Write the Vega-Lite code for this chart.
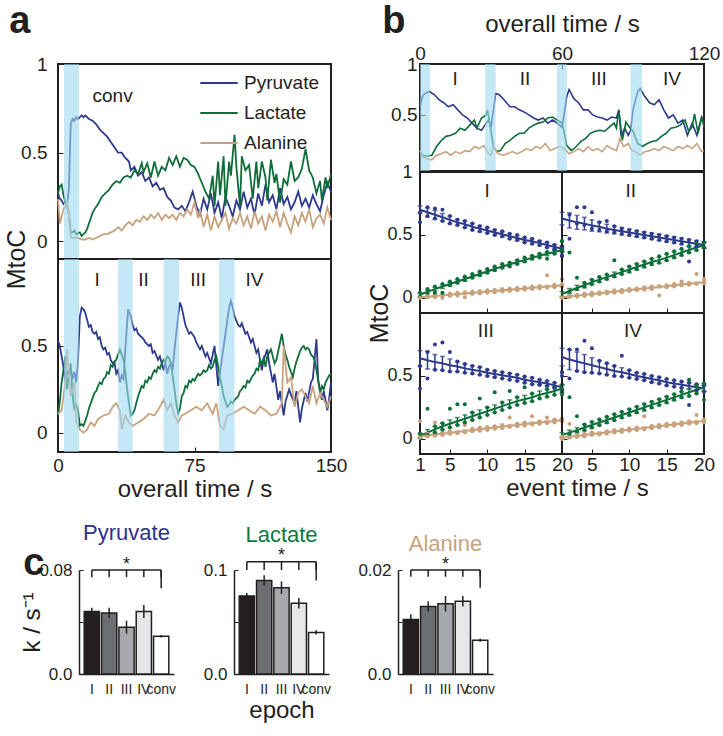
{
"$schema":"https://vega.github.io/schema/vega-lite/v6.json",
"autosize":{"type":"pad"},
"padding":{"left":3,"top":1,"right":4,"bottom":4},
"background":"white",
"config":{
 "font":"Liberation Sans",
 "view":{"stroke":"#231f20","strokeWidth":2},
 "axis":{"grid":false,"domain":false,"labelFontSize":19,"titleFontSize":24,"titleFontWeight":"normal","labelColor":"#231f20","titleColor":"#231f20","tickColor":"#231f20","tickSize":-5,"tickWidth":1,"labelPadding":12,"labelFlush":false,"labelOverlap":false}
},
"datasets":{
 "aP":[{"t":0,"v":0.27},{"t":1,"v":0.24},{"t":2,"v":0.23},{"t":3,"v":0.21},{"t":4,"v":0.22},{"t":5,"v":0.2},{"t":6,"v":0.3},{"t":7,"v":0.66},{"t":8,"v":0.69},{"t":9,"v":0.68},{"t":10,"v":0.7},{"t":11,"v":0.69},{"t":13,"v":0.71},{"t":14,"v":0.7},{"t":15,"v":0.71},{"t":17,"v":0.69},{"t":19,"v":0.68},{"t":21,"v":0.66},{"t":23,"v":0.63},{"t":25,"v":0.61},{"t":27,"v":0.59},{"t":29,"v":0.56},{"t":31,"v":0.53},{"t":33,"v":0.5},{"t":35,"v":0.5},{"t":37,"v":0.47},{"t":39,"v":0.45},{"t":40,"v":0.4},{"t":42,"v":0.42},{"t":44,"v":0.37},{"t":46,"v":0.39},{"t":48,"v":0.34},{"t":50,"v":0.36},{"t":52,"v":0.31},{"t":54,"v":0.33},{"t":56,"v":0.29},{"t":58,"v":0.3},{"t":60,"v":0.25},{"t":62,"v":0.23},{"t":64,"v":0.19},{"t":66,"v":0.18},{"t":68,"v":0.2},{"t":70,"v":0.17},{"t":72,"v":0.22},{"t":74,"v":0.28},{"t":76,"v":0.2},{"t":78,"v":0.15},{"t":80,"v":0.24},{"t":82,"v":0.18},{"t":84,"v":0.27},{"t":86,"v":0.16},{"t":88,"v":0.22},{"t":90,"v":0.13},{"t":92,"v":0.25},{"t":94,"v":0.2},{"t":96,"v":0.14},{"t":98,"v":0.23},{"t":100,"v":0.18},{"t":102,"v":0.28},{"t":104,"v":0.19},{"t":106,"v":0.24},{"t":108,"v":0.15},{"t":110,"v":0.27},{"t":112,"v":0.2},{"t":114,"v":0.32},{"t":116,"v":0.22},{"t":118,"v":0.26},{"t":120,"v":0.18},{"t":122,"v":0.3},{"t":124,"v":0.21},{"t":126,"v":0.25},{"t":128,"v":0.18},{"t":130,"v":0.22},{"t":132,"v":0.28},{"t":134,"v":0.2},{"t":136,"v":0.24},{"t":138,"v":0.19},{"t":140,"v":0.26},{"t":142,"v":0.21},{"t":144,"v":0.17},{"t":146,"v":0.26},{"t":148,"v":0.33},{"t":150,"v":0.28}],
 "aL":[{"t":0,"v":0.27},{"t":1,"v":0.31},{"t":2,"v":0.32},{"t":3,"v":0.26},{"t":4,"v":0.22},{"t":5,"v":0.2},{"t":6,"v":0.15},{"t":7,"v":0.05},{"t":8,"v":0.05},{"t":9,"v":0.06},{"t":10,"v":0.04},{"t":12,"v":0.05},{"t":13,"v":0.03},{"t":14,"v":0.04},{"t":15,"v":0.05},{"t":16,"v":0.07},{"t":17,"v":0.1},{"t":18,"v":0.13},{"t":19,"v":0.16},{"t":20,"v":0.18},{"t":22,"v":0.21},{"t":24,"v":0.25},{"t":26,"v":0.27},{"t":28,"v":0.29},{"t":30,"v":0.32},{"t":32,"v":0.34},{"t":34,"v":0.33},{"t":36,"v":0.36},{"t":38,"v":0.37},{"t":40,"v":0.36},{"t":42,"v":0.4},{"t":44,"v":0.38},{"t":46,"v":0.44},{"t":47,"v":0.39},{"t":49,"v":0.44},{"t":51,"v":0.36},{"t":53,"v":0.45},{"t":55,"v":0.37},{"t":57,"v":0.42},{"t":59,"v":0.4},{"t":61,"v":0.47},{"t":63,"v":0.43},{"t":65,"v":0.48},{"t":67,"v":0.42},{"t":69,"v":0.47},{"t":71,"v":0.46},{"t":73,"v":0.43},{"t":75,"v":0.42},{"t":77,"v":0.38},{"t":79,"v":0.33},{"t":81,"v":0.28},{"t":83,"v":0.24},{"t":85,"v":0.37},{"t":86,"v":0.2},{"t":88,"v":0.45},{"t":89,"v":0.26},{"t":91,"v":0.48},{"t":92,"v":0.2},{"t":94,"v":0.45},{"t":95,"v":0.37},{"t":97,"v":0.6},{"t":98,"v":0.42},{"t":100,"v":0.2},{"t":101,"v":0.48},{"t":103,"v":0.4},{"t":105,"v":0.43},{"t":107,"v":0.24},{"t":109,"v":0.45},{"t":110,"v":0.3},{"t":112,"v":0.45},{"t":114,"v":0.36},{"t":115,"v":0.23},{"t":117,"v":0.46},{"t":119,"v":0.33},{"t":120,"v":0.38},{"t":122,"v":0.22},{"t":124,"v":0.35},{"t":126,"v":0.32},{"t":128,"v":0.45},{"t":130,"v":0.34},{"t":132,"v":0.36},{"t":134,"v":0.41},{"t":136,"v":0.52},{"t":138,"v":0.4},{"t":140,"v":0.36},{"t":142,"v":0.27},{"t":144,"v":0.34},{"t":145,"v":0.23},{"t":147,"v":0.36},{"t":148,"v":0.3},{"t":150,"v":0.38}],
 "aA":[{"t":0,"v":0.24},{"t":1,"v":0.1},{"t":2,"v":0.14},{"t":3,"v":0.18},{"t":4,"v":0.2},{"t":5,"v":0.22},{"t":6,"v":0.15},{"t":7,"v":0.02},{"t":9,"v":0.02},{"t":11,"v":0.02},{"t":13,"v":0.01},{"t":15,"v":0.01},{"t":17,"v":0.02},{"t":19,"v":0.01},{"t":21,"v":0.02},{"t":23,"v":0.03},{"t":25,"v":0.04},{"t":27,"v":0.04},{"t":29,"v":0.05},{"t":31,"v":0.06},{"t":33,"v":0.08},{"t":35,"v":0.06},{"t":37,"v":0.09},{"t":39,"v":0.11},{"t":41,"v":0.09},{"t":43,"v":0.12},{"t":45,"v":0.11},{"t":47,"v":0.14},{"t":49,"v":0.12},{"t":51,"v":0.15},{"t":53,"v":0.13},{"t":55,"v":0.16},{"t":57,"v":0.12},{"t":59,"v":0.15},{"t":61,"v":0.13},{"t":63,"v":0.15},{"t":65,"v":0.12},{"t":67,"v":0.16},{"t":69,"v":0.14},{"t":71,"v":0.18},{"t":73,"v":0.15},{"t":75,"v":0.22},{"t":77,"v":0.13},{"t":78,"v":0.18},{"t":80,"v":0.08},{"t":82,"v":0.15},{"t":84,"v":0.06},{"t":86,"v":0.14},{"t":88,"v":0.08},{"t":90,"v":0.12},{"t":92,"v":0.16},{"t":94,"v":0.07},{"t":96,"v":0.13},{"t":98,"v":0.1},{"t":100,"v":0.16},{"t":102,"v":0.09},{"t":104,"v":0.14},{"t":106,"v":0.07},{"t":108,"v":0.17},{"t":110,"v":0.1},{"t":112,"v":0.14},{"t":114,"v":0.06},{"t":116,"v":0.15},{"t":118,"v":0.11},{"t":120,"v":0.17},{"t":122,"v":0.08},{"t":124,"v":0.16},{"t":126,"v":0.1},{"t":128,"v":0.05},{"t":130,"v":0.14},{"t":132,"v":0.09},{"t":134,"v":0.16},{"t":136,"v":0.11},{"t":138,"v":0.18},{"t":140,"v":0.08},{"t":142,"v":0.13},{"t":144,"v":0.15},{"t":146,"v":0.1},{"t":148,"v":0.19},{"t":150,"v":0.12}],
 "a2P":[{"t":0,"v":0.53},{"t":1,"v":0.5},{"t":2,"v":0.44},{"t":3,"v":0.38},{"t":4,"v":0.29},{"t":5,"v":0.36},{"t":6,"v":0.33},{"t":7,"v":0.37},{"t":8,"v":0.31},{"t":9,"v":0.35},{"t":10,"v":0.29},{"t":11,"v":0.42},{"t":12,"v":0.67},{"t":13,"v":0.72},{"t":14,"v":0.71},{"t":15,"v":0.69},{"t":16,"v":0.65},{"t":17,"v":0.61},{"t":18,"v":0.62},{"t":19,"v":0.58},{"t":20,"v":0.57},{"t":21,"v":0.58},{"t":22,"v":0.54},{"t":23,"v":0.55},{"t":24,"v":0.5},{"t":25,"v":0.48},{"t":26,"v":0.49},{"t":27,"v":0.45},{"t":28,"v":0.46},{"t":29,"v":0.42},{"t":30,"v":0.4},{"t":31,"v":0.41},{"t":32,"v":0.34},{"t":33,"v":0.36},{"t":34,"v":0.29},{"t":35,"v":0.33},{"t":36,"v":0.31},{"t":37,"v":0.48},{"t":38.5,"v":0.71},{"t":40,"v":0.67},{"t":41,"v":0.62},{"t":42,"v":0.59},{"t":43,"v":0.6},{"t":44,"v":0.57},{"t":45,"v":0.56},{"t":47,"v":0.54},{"t":48,"v":0.52},{"t":50,"v":0.5},{"t":51,"v":0.51},{"t":52,"v":0.46},{"t":53,"v":0.47},{"t":55,"v":0.42},{"t":56,"v":0.44},{"t":58,"v":0.36},{"t":59,"v":0.41},{"t":60,"v":0.34},{"t":61,"v":0.38},{"t":62,"v":0.4},{"t":63,"v":0.36},{"t":64,"v":0.48},{"t":66,"v":0.67},{"t":67,"v":0.75},{"t":68,"v":0.72},{"t":69,"v":0.67},{"t":70,"v":0.62},{"t":72,"v":0.57},{"t":73,"v":0.58},{"t":75,"v":0.55},{"t":76,"v":0.52},{"t":78,"v":0.48},{"t":79,"v":0.5},{"t":81,"v":0.44},{"t":82,"v":0.46},{"t":84,"v":0.4},{"t":85,"v":0.45},{"t":86,"v":0.5},{"t":88,"v":0.27},{"t":89,"v":0.35},{"t":90,"v":0.42},{"t":92,"v":0.57},{"t":94,"v":0.72},{"t":95,"v":0.76},{"t":96,"v":0.72},{"t":97,"v":0.67},{"t":99,"v":0.62},{"t":100,"v":0.61},{"t":101,"v":0.63},{"t":103,"v":0.57},{"t":104,"v":0.58},{"t":106,"v":0.52},{"t":107,"v":0.54},{"t":109,"v":0.46},{"t":110,"v":0.48},{"t":112,"v":0.36},{"t":113,"v":0.42},{"t":115,"v":0.48},{"t":116,"v":0.4},{"t":118,"v":0.29},{"t":119,"v":0.34},{"t":121,"v":0.19},{"t":122,"v":0.24},{"t":124,"v":0.1},{"t":125,"v":0.18},{"t":127,"v":0.25},{"t":128,"v":0.22},{"t":130,"v":0.17},{"t":131,"v":0.24},{"t":133,"v":0.06},{"t":134,"v":0.14},{"t":136,"v":0.23},{"t":137,"v":0.18},{"t":139,"v":0.29},{"t":140,"v":0.31},{"t":142,"v":0.54},{"t":143,"v":0.3},{"t":145,"v":0.19},{"t":146,"v":0.24},{"t":148,"v":0.13},{"t":149,"v":0.2},{"t":150,"v":0.29}],
 "a2L":[{"t":0,"v":0.1},{"t":1,"v":0.18},{"t":2,"v":0.29},{"t":3,"v":0.36},{"t":4,"v":0.44},{"t":5,"v":0.25},{"t":6,"v":0.33},{"t":7,"v":0.4},{"t":8,"v":0.22},{"t":9,"v":0.13},{"t":10,"v":0.16},{"t":11,"v":0.13},{"t":12,"v":0.04},{"t":13,"v":0.05},{"t":14,"v":0.04},{"t":15,"v":0.07},{"t":16,"v":0.1},{"t":17,"v":0.14},{"t":18,"v":0.17},{"t":19,"v":0.2},{"t":20,"v":0.23},{"t":21,"v":0.24},{"t":22,"v":0.27},{"t":23,"v":0.29},{"t":24,"v":0.28},{"t":25,"v":0.31},{"t":26,"v":0.32},{"t":27,"v":0.35},{"t":28,"v":0.34},{"t":29,"v":0.39},{"t":30,"v":0.38},{"t":31,"v":0.41},{"t":32,"v":0.42},{"t":33,"v":0.45},{"t":34,"v":0.48},{"t":35,"v":0.45},{"t":36,"v":0.42},{"t":37,"v":0.35},{"t":38,"v":0.25},{"t":39,"v":0.17},{"t":40,"v":0.1},{"t":41,"v":0.11},{"t":42,"v":0.13},{"t":43,"v":0.17},{"t":44,"v":0.21},{"t":45,"v":0.24},{"t":46,"v":0.27},{"t":47,"v":0.26},{"t":48,"v":0.3},{"t":49,"v":0.29},{"t":50,"v":0.32},{"t":51,"v":0.31},{"t":52,"v":0.34},{"t":53,"v":0.36},{"t":54,"v":0.35},{"t":55,"v":0.38},{"t":56,"v":0.37},{"t":57,"v":0.4},{"t":58,"v":0.42},{"t":59,"v":0.41},{"t":60,"v":0.44},{"t":61,"v":0.43},{"t":62,"v":0.4},{"t":63,"v":0.33},{"t":64,"v":0.25},{"t":65,"v":0.17},{"t":66,"v":0.11},{"t":67,"v":0.14},{"t":68,"v":0.21},{"t":69,"v":0.23},{"t":70,"v":0.27},{"t":71,"v":0.26},{"t":72,"v":0.3},{"t":73,"v":0.29},{"t":74,"v":0.31},{"t":75,"v":0.3},{"t":76,"v":0.32},{"t":77,"v":0.34},{"t":78,"v":0.33},{"t":79,"v":0.34},{"t":80,"v":0.36},{"t":81,"v":0.35},{"t":82,"v":0.36},{"t":83,"v":0.39},{"t":84,"v":0.37},{"t":85,"v":0.38},{"t":86,"v":0.42},{"t":87,"v":0.44},{"t":88,"v":0.38},{"t":89,"v":0.32},{"t":90,"v":0.27},{"t":91,"v":0.21},{"t":92,"v":0.18},{"t":93,"v":0.15},{"t":94,"v":0.16},{"t":95,"v":0.18},{"t":96,"v":0.17},{"t":97,"v":0.19},{"t":98,"v":0.2},{"t":99,"v":0.21},{"t":100,"v":0.24},{"t":101,"v":0.25},{"t":102,"v":0.27},{"t":103,"v":0.26},{"t":104,"v":0.3},{"t":105,"v":0.29},{"t":106,"v":0.31},{"t":107,"v":0.33},{"t":108,"v":0.34},{"t":109,"v":0.37},{"t":110,"v":0.36},{"t":111,"v":0.42},{"t":112,"v":0.4},{"t":113,"v":0.43},{"t":114,"v":0.38},{"t":115,"v":0.44},{"t":116,"v":0.46},{"t":117,"v":0.48},{"t":118,"v":0.44},{"t":119,"v":0.4},{"t":120,"v":0.42},{"t":121,"v":0.47},{"t":122,"v":0.52},{"t":123,"v":0.57},{"t":124,"v":0.5},{"t":125,"v":0.45},{"t":126,"v":0.42},{"t":127,"v":0.38},{"t":128,"v":0.35},{"t":129,"v":0.32},{"t":130,"v":0.37},{"t":131,"v":0.41},{"t":132,"v":0.44},{"t":133,"v":0.47},{"t":134,"v":0.49},{"t":135,"v":0.5},{"t":136,"v":0.48},{"t":137,"v":0.49},{"t":138,"v":0.48},{"t":139,"v":0.45},{"t":140,"v":0.44},{"t":141,"v":0.42},{"t":142,"v":0.36},{"t":143,"v":0.3},{"t":144,"v":0.23},{"t":145,"v":0.27},{"t":146,"v":0.25},{"t":147,"v":0.29},{"t":148,"v":0.31},{"t":149,"v":0.33},{"t":150,"v":0.34}],
 "a2A":[{"t":0,"v":0.11},{"t":2,"v":0.13},{"t":4,"v":0.29},{"t":5,"v":0.48},{"t":7,"v":0.21},{"t":9,"v":0.29},{"t":10,"v":0.06},{"t":12,"v":0.02},{"t":14,"v":0},{"t":16,"v":0.02},{"t":18,"v":0.06},{"t":20,"v":0.04},{"t":22,"v":0.08},{"t":25,"v":0.1},{"t":28,"v":0.11},{"t":30,"v":0.15},{"t":32,"v":0.17},{"t":34,"v":0.13},{"t":35,"v":0.02},{"t":37,"v":0.1},{"t":39,"v":0.06},{"t":41,"v":0.04},{"t":44,"v":0.06},{"t":47,"v":0.08},{"t":50,"v":0.11},{"t":53,"v":0.1},{"t":56,"v":0.15},{"t":58,"v":0.19},{"t":60,"v":0.13},{"t":62,"v":0.17},{"t":64,"v":0.1},{"t":66,"v":0.06},{"t":68,"v":0.1},{"t":70,"v":0.11},{"t":73,"v":0.13},{"t":76,"v":0.15},{"t":79,"v":0.13},{"t":82,"v":0.17},{"t":85,"v":0.11},{"t":87,"v":0.17},{"t":89,"v":0.04},{"t":91,"v":0.02},{"t":93,"v":0.1},{"t":96,"v":0.11},{"t":99,"v":0.13},{"t":102,"v":0.15},{"t":105,"v":0.13},{"t":108,"v":0.11},{"t":111,"v":0.15},{"t":114,"v":0.13},{"t":117,"v":0.1},{"t":120,"v":0.11},{"t":123,"v":0.17},{"t":124,"v":0.5},{"t":126,"v":0.29},{"t":128,"v":0.32},{"t":130,"v":0.15},{"t":132,"v":0.23},{"t":134,"v":0.25},{"t":136,"v":0.21},{"t":138,"v":0.17},{"t":140,"v":0.27},{"t":142,"v":0.17},{"t":144,"v":0.23},{"t":146,"v":0.19},{"t":148,"v":0.15},{"t":150,"v":0.21}],
 "bP":[{"t":0,"v":0.58},{"t":1,"v":0.68},{"t":2,"v":0.71},{"t":4,"v":0.73},{"t":6,"v":0.7},{"t":8,"v":0.65},{"t":10,"v":0.62},{"t":12,"v":0.58},{"t":14,"v":0.6},{"t":16,"v":0.55},{"t":18,"v":0.5},{"t":20,"v":0.47},{"t":22,"v":0.42},{"t":24,"v":0.37},{"t":26,"v":0.35},{"t":28,"v":0.42},{"t":29,"v":0.45},{"t":30,"v":0.38},{"t":32,"v":0.71},{"t":33.4,"v":0.7},{"t":35.5,"v":0.65},{"t":38,"v":0.58},{"t":40,"v":0.58},{"t":42,"v":0.55},{"t":44,"v":0.53},{"t":46,"v":0.5},{"t":48,"v":0.47},{"t":50,"v":0.45},{"t":52,"v":0.47},{"t":54,"v":0.42},{"t":56,"v":0.45},{"t":58,"v":0.42},{"t":60,"v":0.38},{"t":61,"v":0.52},{"t":62,"v":0.68},{"t":63,"v":0.75},{"t":65,"v":0.66},{"t":67,"v":0.62},{"t":69,"v":0.55},{"t":71,"v":0.55},{"t":73,"v":0.5},{"t":75,"v":0.48},{"t":77,"v":0.47},{"t":79,"v":0.45},{"t":81,"v":0.48},{"t":83,"v":0.47},{"t":84,"v":0.55},{"t":85,"v":0.29},{"t":86.5,"v":0.37},{"t":88,"v":0.3},{"t":89,"v":0.35},{"t":90,"v":0.55},{"t":92,"v":0.73},{"t":93,"v":0.76},{"t":95,"v":0.68},{"t":97,"v":0.62},{"t":99,"v":0.6},{"t":101,"v":0.65},{"t":103,"v":0.55},{"t":105,"v":0.47},{"t":107,"v":0.5},{"t":109,"v":0.42},{"t":111,"v":0.45},{"t":113,"v":0.3},{"t":115,"v":0.42},{"t":117,"v":0.3},{"t":119,"v":0.48},{"t":120,"v":0.42}],
 "bL":[{"t":0,"v":0.15},{"t":1,"v":0.105},{"t":3,"v":0.095},{"t":5,"v":0.105},{"t":7,"v":0.19},{"t":9,"v":0.25},{"t":11,"v":0.29},{"t":13,"v":0.3},{"t":15,"v":0.32},{"t":17,"v":0.37},{"t":19,"v":0.35},{"t":21,"v":0.4},{"t":23,"v":0.45},{"t":24,"v":0.37},{"t":26,"v":0.47},{"t":28,"v":0.5},{"t":28.5,"v":0.55},{"t":29.5,"v":0.42},{"t":31,"v":0.19},{"t":32.5,"v":0.14},{"t":34,"v":0.15},{"t":36,"v":0.22},{"t":38,"v":0.25},{"t":40,"v":0.29},{"t":42,"v":0.32},{"t":44,"v":0.32},{"t":46,"v":0.37},{"t":48,"v":0.4},{"t":50,"v":0.42},{"t":52,"v":0.43},{"t":54,"v":0.47},{"t":56,"v":0.48},{"t":58,"v":0.45},{"t":60,"v":0.42},{"t":61,"v":0.32},{"t":62,"v":0.2},{"t":64,"v":0.15},{"t":66,"v":0.19},{"t":68,"v":0.24},{"t":70,"v":0.27},{"t":72,"v":0.32},{"t":74,"v":0.34},{"t":76,"v":0.35},{"t":78,"v":0.34},{"t":80,"v":0.38},{"t":82,"v":0.42},{"t":83,"v":0.37},{"t":84,"v":0.55},{"t":85.5,"v":0.25},{"t":87,"v":0.43},{"t":88.5,"v":0.38},{"t":90,"v":0.34},{"t":92,"v":0.22},{"t":94,"v":0.19},{"t":96,"v":0.22},{"t":98,"v":0.24},{"t":100,"v":0.25},{"t":102,"v":0.29},{"t":104,"v":0.32},{"t":106,"v":0.37},{"t":108,"v":0.38},{"t":110,"v":0.4},{"t":112,"v":0.45},{"t":113.5,"v":0.34},{"t":115,"v":0.38},{"t":116,"v":0.51},{"t":117.5,"v":0.32},{"t":119,"v":0.48},{"t":120,"v":0.38}],
 "bA":[{"t":0,"v":0.15},{"t":1,"v":0.09},{"t":3,"v":0.07},{"t":5,"v":0.06},{"t":7,"v":0.105},{"t":9,"v":0.12},{"t":11,"v":0.14},{"t":13,"v":0.105},{"t":15,"v":0.14},{"t":17,"v":0.12},{"t":19,"v":0.15},{"t":21,"v":0.14},{"t":23,"v":0.19},{"t":25,"v":0.17},{"t":27,"v":0.2},{"t":29,"v":0.12},{"t":30,"v":0.105},{"t":31,"v":0.19},{"t":33,"v":0.12},{"t":35,"v":0.105},{"t":37,"v":0.12},{"t":39,"v":0.14},{"t":41,"v":0.12},{"t":43,"v":0.14},{"t":45,"v":0.17},{"t":47,"v":0.15},{"t":49,"v":0.19},{"t":51,"v":0.17},{"t":53,"v":0.22},{"t":55,"v":0.15},{"t":57,"v":0.17},{"t":59,"v":0.19},{"t":61,"v":0.17},{"t":63,"v":0.12},{"t":65,"v":0.14},{"t":67,"v":0.17},{"t":69,"v":0.14},{"t":71,"v":0.19},{"t":73,"v":0.15},{"t":75,"v":0.17},{"t":77,"v":0.14},{"t":79,"v":0.2},{"t":81,"v":0.17},{"t":83,"v":0.15},{"t":84.5,"v":0.27},{"t":86,"v":0.19},{"t":88,"v":0.22},{"t":89.5,"v":0.15},{"t":91,"v":0.14},{"t":93,"v":0.105},{"t":95,"v":0.14},{"t":97,"v":0.15},{"t":99,"v":0.17},{"t":101,"v":0.15},{"t":103,"v":0.19},{"t":105,"v":0.17},{"t":107,"v":0.15},{"t":109,"v":0.19},{"t":111,"v":0.17},{"t":113,"v":0.2},{"t":115,"v":0.17},{"t":117,"v":0.22},{"t":119,"v":0.14},{"t":120,"v":0.15}],
 "ev":[
{"p":"I","m":"P","t":1,"f":0.7,"e":0.03,"a":0.6,"b":0.68},{"p":"I","m":"P","t":2,"f":0.68,"e":0.035,"a":0.72,"b":0.65},{"p":"I","m":"P","t":3,"f":0.66,"e":0.035,"a":0.71,"b":0.63},{"p":"I","m":"P","t":4,"f":0.64,"e":0.03,"a":0.7,"b":0.61},{"p":"I","m":"P","t":5,"f":0.62,"e":0.03,"a":0.65,"b":0.59},{"p":"I","m":"P","t":6,"f":0.6,"e":0.025,"a":0.62,"b":0.58},{"p":"I","m":"P","t":7,"f":0.585,"e":0.025,"a":0.61,"b":0.56},{"p":"I","m":"P","t":8,"f":0.565,"e":0.025,"a":0.59,"b":0.54},{"p":"I","m":"P","t":9,"f":0.55,"e":0.025,"a":0.57,"b":0.53},{"p":"I","m":"P","t":10,"f":0.535,"e":0.02,"a":0.56,"b":0.515},{"p":"I","m":"P","t":11,"f":0.52,"e":0.02,"a":0.54,"b":0.5},{"p":"I","m":"P","t":12,"f":0.505,"e":0.02,"a":0.53,"b":0.49},{"p":"I","m":"P","t":13,"f":0.49,"e":0.02,"a":0.51,"b":0.47},{"p":"I","m":"P","t":14,"f":0.475,"e":0.02,"a":0.5,"b":0.46},{"p":"I","m":"P","t":15,"f":0.46,"e":0.02,"a":0.48,"b":0.44},{"p":"I","m":"P","t":16,"f":0.45,"e":0.02,"a":0.47,"b":0.43},{"p":"I","m":"P","t":17,"f":0.435,"e":0.02,"a":0.45,"b":0.42},{"p":"I","m":"P","t":18,"f":0.42,"e":0.02,"a":0.44,"b":0.4},{"p":"I","m":"P","t":19,"f":0.405,"e":0.02,"a":0.42,"b":0.39},{"p":"I","m":"P","t":20,"f":0.39,"e":0.02,"a":0.41,"b":0.33},
{"p":"I","m":"L","t":1,"f":0.025,"e":0.015,"a":0.04,"b":0.01},{"p":"I","m":"L","t":2,"f":0.05,"e":0.015,"a":0.07,"b":0.04},{"p":"I","m":"L","t":3,"f":0.07,"e":0.015,"a":0.09,"b":0.04},{"p":"I","m":"L","t":4,"f":0.09,"e":0.015,"a":0.11,"b":0.04},{"p":"I","m":"L","t":5,"f":0.11,"e":0.015,"a":0.13,"b":0.1},{"p":"I","m":"L","t":6,"f":0.13,"e":0.015,"a":0.15,"b":0.12},{"p":"I","m":"L","t":7,"f":0.15,"e":0.015,"a":0.17,"b":0.14},{"p":"I","m":"L","t":8,"f":0.17,"e":0.015,"a":0.19,"b":0.16},{"p":"I","m":"L","t":9,"f":0.19,"e":0.015,"a":0.21,"b":0.18},{"p":"I","m":"L","t":10,"f":0.21,"e":0.015,"a":0.23,"b":0.2},{"p":"I","m":"L","t":11,"f":0.23,"e":0.015,"a":0.25,"b":0.22},{"p":"I","m":"L","t":12,"f":0.25,"e":0.015,"a":0.27,"b":0.24},{"p":"I","m":"L","t":13,"f":0.265,"e":0.015,"a":0.28,"b":0.25},{"p":"I","m":"L","t":14,"f":0.285,"e":0.015,"a":0.3,"b":0.27},{"p":"I","m":"L","t":15,"f":0.3,"e":0.015,"a":0.32,"b":0.29},{"p":"I","m":"L","t":16,"f":0.32,"e":0.015,"a":0.335,"b":0.31},{"p":"I","m":"L","t":17,"f":0.335,"e":0.015,"a":0.35,"b":0.32},{"p":"I","m":"L","t":18,"f":0.35,"e":0.015,"a":0.365,"b":0.31},{"p":"I","m":"L","t":19,"f":0.365,"e":0.015,"a":0.38,"b":0.35},{"p":"I","m":"L","t":20,"f":0.38,"e":0.015,"a":0.45,"b":0.37},
{"p":"I","m":"A","t":1,"f":0.005,"e":0.008,"a":0.01,"b":0},{"p":"I","m":"A","t":2,"f":0.01,"e":0.008,"a":0.02,"b":0.005},{"p":"I","m":"A","t":3,"f":0.015,"e":0.008,"a":0.025,"b":0.005},{"p":"I","m":"A","t":4,"f":0.02,"e":0.008,"a":0.03,"b":0},{"p":"I","m":"A","t":5,"f":0.025,"e":0.008,"a":0.035,"b":0.015},{"p":"I","m":"A","t":6,"f":0.03,"e":0.008,"a":0.04,"b":0.02},{"p":"I","m":"A","t":7,"f":0.035,"e":0.008,"a":0.045,"b":0.005},{"p":"I","m":"A","t":8,"f":0.04,"e":0.008,"a":0.05,"b":0.03},{"p":"I","m":"A","t":9,"f":0.045,"e":0.008,"a":0.055,"b":0.035},{"p":"I","m":"A","t":10,"f":0.05,"e":0.008,"a":0.06,"b":0.04},{"p":"I","m":"A","t":11,"f":0.055,"e":0.008,"a":0.065,"b":0.045},{"p":"I","m":"A","t":12,"f":0.06,"e":0.008,"a":0.07,"b":0.05},{"p":"I","m":"A","t":13,"f":0.065,"e":0.008,"a":0.075,"b":0.055},{"p":"I","m":"A","t":14,"f":0.07,"e":0.008,"a":0.08,"b":0.06},{"p":"I","m":"A","t":15,"f":0.075,"e":0.008,"a":0.085,"b":0.065},{"p":"I","m":"A","t":16,"f":0.08,"e":0.008,"a":0.09,"b":0.07},{"p":"I","m":"A","t":17,"f":0.085,"e":0.008,"a":0.095,"b":0.075},{"p":"I","m":"A","t":18,"f":0.09,"e":0.008,"a":0.18,"b":0.08},{"p":"I","m":"A","t":19,"f":0.095,"e":0.008,"a":0.105,"b":0.085},{"p":"I","m":"A","t":20,"f":0.1,"e":0.008,"a":0.15,"b":0.09},
{"p":"II","m":"P","t":1,"f":0.63,"e":0.05,"a":0.39,"b":0.34},{"p":"II","m":"P","t":2,"f":0.615,"e":0.06,"a":0.66,"b":0.47},{"p":"II","m":"P","t":3,"f":0.6,"e":0.055,"a":0.72,"b":0.59},{"p":"II","m":"P","t":4,"f":0.59,"e":0.05,"a":0.72,"b":0.58},{"p":"II","m":"P","t":5,"f":0.575,"e":0.045,"a":0.68,"b":0.55},{"p":"II","m":"P","t":6,"f":0.565,"e":0.04,"a":0.6,"b":0.54},{"p":"II","m":"P","t":7,"f":0.55,"e":0.035,"a":0.61,"b":0.53},{"p":"II","m":"P","t":8,"f":0.54,"e":0.03,"a":0.57,"b":0.52},{"p":"II","m":"P","t":9,"f":0.53,"e":0.03,"a":0.55,"b":0.51},{"p":"II","m":"P","t":10,"f":0.52,"e":0.025,"a":0.54,"b":0.5},{"p":"II","m":"P","t":11,"f":0.51,"e":0.025,"a":0.53,"b":0.49},{"p":"II","m":"P","t":12,"f":0.5,"e":0.025,"a":0.52,"b":0.48},{"p":"II","m":"P","t":13,"f":0.49,"e":0.025,"a":0.51,"b":0.47},{"p":"II","m":"P","t":14,"f":0.48,"e":0.025,"a":0.5,"b":0.46},{"p":"II","m":"P","t":15,"f":0.47,"e":0.025,"a":0.49,"b":0.45},{"p":"II","m":"P","t":16,"f":0.46,"e":0.025,"a":0.48,"b":0.44},{"p":"II","m":"P","t":17,"f":0.45,"e":0.025,"a":0.47,"b":0.43},{"p":"II","m":"P","t":18,"f":0.44,"e":0.025,"a":0.46,"b":0.29},{"p":"II","m":"P","t":19,"f":0.43,"e":0.025,"a":0.45,"b":0.41},{"p":"II","m":"P","t":20,"f":0.42,"e":0.025,"a":0.44,"b":0.4},
{"p":"II","m":"L","t":1,"f":0.03,"e":0.02,"a":0.45,"b":0.38},{"p":"II","m":"L","t":2,"f":0.055,"e":0.02,"a":0.36,"b":0.05},{"p":"II","m":"L","t":3,"f":0.08,"e":0.02,"a":0.16,"b":0.07},{"p":"II","m":"L","t":4,"f":0.1,"e":0.02,"a":0.12,"b":0.09},{"p":"II","m":"L","t":5,"f":0.125,"e":0.02,"a":0.145,"b":0.11},{"p":"II","m":"L","t":6,"f":0.145,"e":0.02,"a":0.165,"b":0.13},{"p":"II","m":"L","t":7,"f":0.165,"e":0.02,"a":0.185,"b":0.15},{"p":"II","m":"L","t":8,"f":0.185,"e":0.02,"a":0.3,"b":0.17},{"p":"II","m":"L","t":9,"f":0.205,"e":0.02,"a":0.225,"b":0.19},{"p":"II","m":"L","t":10,"f":0.225,"e":0.025,"a":0.25,"b":0.21},{"p":"II","m":"L","t":11,"f":0.245,"e":0.025,"a":0.27,"b":0.23},{"p":"II","m":"L","t":12,"f":0.265,"e":0.025,"a":0.29,"b":0.25},{"p":"II","m":"L","t":13,"f":0.285,"e":0.025,"a":0.31,"b":0.27},{"p":"II","m":"L","t":14,"f":0.3,"e":0.025,"a":0.33,"b":0.28},{"p":"II","m":"L","t":15,"f":0.32,"e":0.025,"a":0.35,"b":0.3},{"p":"II","m":"L","t":16,"f":0.34,"e":0.025,"a":0.37,"b":0.32},{"p":"II","m":"L","t":17,"f":0.36,"e":0.025,"a":0.39,"b":0.34},{"p":"II","m":"L","t":18,"f":0.38,"e":0.025,"a":0.41,"b":0.36},{"p":"II","m":"L","t":19,"f":0.4,"e":0.025,"a":0.43,"b":0.38},{"p":"II","m":"L","t":20,"f":0.42,"e":0.025,"a":0.44,"b":0.4},
{"p":"II","m":"A","t":1,"f":0.005,"e":0.008,"a":0.11,"b":0},{"p":"II","m":"A","t":2,"f":0.012,"e":0.008,"a":0.02,"b":0.005},{"p":"II","m":"A","t":3,"f":0.018,"e":0.008,"a":0.025,"b":0.01},{"p":"II","m":"A","t":4,"f":0.025,"e":0.008,"a":0.035,"b":0.015},{"p":"II","m":"A","t":5,"f":0.03,"e":0.008,"a":0.04,"b":0.02},{"p":"II","m":"A","t":6,"f":0.037,"e":0.008,"a":0.045,"b":0.03},{"p":"II","m":"A","t":7,"f":0.043,"e":0.008,"a":0.05,"b":0.035},{"p":"II","m":"A","t":8,"f":0.05,"e":0.008,"a":0.06,"b":0.04},{"p":"II","m":"A","t":9,"f":0.055,"e":0.008,"a":0.065,"b":0.045},{"p":"II","m":"A","t":10,"f":0.062,"e":0.008,"a":0.07,"b":0.055},{"p":"II","m":"A","t":11,"f":0.068,"e":0.008,"a":0.075,"b":0.06},{"p":"II","m":"A","t":12,"f":0.075,"e":0.008,"a":0.085,"b":0.065},{"p":"II","m":"A","t":13,"f":0.08,"e":0.008,"a":0.09,"b":0.07},{"p":"II","m":"A","t":14,"f":0.087,"e":0.008,"a":0.095,"b":0.02},{"p":"II","m":"A","t":15,"f":0.093,"e":0.008,"a":0.1,"b":0.085},{"p":"II","m":"A","t":16,"f":0.1,"e":0.008,"a":0.11,"b":0.09},{"p":"II","m":"A","t":17,"f":0.106,"e":0.008,"a":0.13,"b":0.1},{"p":"II","m":"A","t":18,"f":0.112,"e":0.008,"a":0.12,"b":0.105},{"p":"II","m":"A","t":19,"f":0.118,"e":0.008,"a":0.19,"b":0.11},{"p":"II","m":"A","t":20,"f":0.125,"e":0.008,"a":0.15,"b":0.115},
{"p":"III","m":"P","t":1,"f":0.64,"e":0.06,"a":0.4,"b":0.58},{"p":"III","m":"P","t":2,"f":0.625,"e":0.07,"a":0.69,"b":0.48},{"p":"III","m":"P","t":3,"f":0.61,"e":0.06,"a":0.75,"b":0.55},{"p":"III","m":"P","t":4,"f":0.6,"e":0.055,"a":0.765,"b":0.545},{"p":"III","m":"P","t":5,"f":0.585,"e":0.05,"a":0.69,"b":0.535},{"p":"III","m":"P","t":6,"f":0.575,"e":0.04,"a":0.615,"b":0.535},{"p":"III","m":"P","t":7,"f":0.56,"e":0.035,"a":0.595,"b":0.525},{"p":"III","m":"P","t":8,"f":0.55,"e":0.03,"a":0.58,"b":0.52},{"p":"III","m":"P","t":9,"f":0.54,"e":0.03,"a":0.57,"b":0.51},{"p":"III","m":"P","t":10,"f":0.525,"e":0.025,"a":0.55,"b":0.5},{"p":"III","m":"P","t":11,"f":0.515,"e":0.025,"a":0.54,"b":0.49},{"p":"III","m":"P","t":12,"f":0.505,"e":0.025,"a":0.53,"b":0.48},{"p":"III","m":"P","t":13,"f":0.495,"e":0.025,"a":0.52,"b":0.47},{"p":"III","m":"P","t":14,"f":0.485,"e":0.025,"a":0.51,"b":0.46},{"p":"III","m":"P","t":15,"f":0.47,"e":0.025,"a":0.495,"b":0.445},{"p":"III","m":"P","t":16,"f":0.46,"e":0.025,"a":0.485,"b":0.435},{"p":"III","m":"P","t":17,"f":0.45,"e":0.02,"a":0.47,"b":0.43},{"p":"III","m":"P","t":18,"f":0.44,"e":0.02,"a":0.46,"b":0.42},{"p":"III","m":"P","t":19,"f":0.425,"e":0.02,"a":0.445,"b":0.405},{"p":"III","m":"P","t":20,"f":0.41,"e":0.02,"a":0.53,"b":0.39},
{"p":"III","m":"L","t":1,"f":0.025,"e":0.02,"a":0.04,"b":0.01},{"p":"III","m":"L","t":2,"f":0.05,"e":0.025,"a":0.24,"b":0.03},{"p":"III","m":"L","t":3,"f":0.075,"e":0.025,"a":0.1,"b":0.05},{"p":"III","m":"L","t":4,"f":0.1,"e":0.025,"a":0.125,"b":0.075},{"p":"III","m":"L","t":5,"f":0.12,"e":0.03,"a":0.24,"b":0.09},{"p":"III","m":"L","t":6,"f":0.14,"e":0.03,"a":0.275,"b":0.11},{"p":"III","m":"L","t":7,"f":0.16,"e":0.03,"a":0.275,"b":0.13},{"p":"III","m":"L","t":8,"f":0.18,"e":0.03,"a":0.21,"b":0.15},{"p":"III","m":"L","t":9,"f":0.2,"e":0.03,"a":0.32,"b":0.17},{"p":"III","m":"L","t":10,"f":0.22,"e":0.03,"a":0.25,"b":0.19},{"p":"III","m":"L","t":11,"f":0.24,"e":0.03,"a":0.37,"b":0.21},{"p":"III","m":"L","t":12,"f":0.26,"e":0.03,"a":0.29,"b":0.23},{"p":"III","m":"L","t":13,"f":0.28,"e":0.03,"a":0.38,"b":0.25},{"p":"III","m":"L","t":14,"f":0.3,"e":0.03,"a":0.33,"b":0.27},{"p":"III","m":"L","t":15,"f":0.315,"e":0.03,"a":0.41,"b":0.285},{"p":"III","m":"L","t":16,"f":0.33,"e":0.03,"a":0.36,"b":0.3},{"p":"III","m":"L","t":17,"f":0.35,"e":0.03,"a":0.43,"b":0.32},{"p":"III","m":"L","t":18,"f":0.365,"e":0.03,"a":0.395,"b":0.335},{"p":"III","m":"L","t":19,"f":0.38,"e":0.03,"a":0.41,"b":0.35},{"p":"III","m":"L","t":20,"f":0.4,"e":0.03,"a":0.43,"b":0.37},
{"p":"III","m":"A","t":1,"f":0.02,"e":0.01,"a":0.14,"b":0.01},{"p":"III","m":"A","t":2,"f":0.027,"e":0.01,"a":0.04,"b":0.02},{"p":"III","m":"A","t":3,"f":0.034,"e":0.01,"a":0.13,"b":0.025},{"p":"III","m":"A","t":4,"f":0.041,"e":0.01,"a":0.05,"b":0.03},{"p":"III","m":"A","t":5,"f":0.048,"e":0.01,"a":0.06,"b":0.04},{"p":"III","m":"A","t":6,"f":0.055,"e":0.01,"a":0.11,"b":0.045},{"p":"III","m":"A","t":7,"f":0.062,"e":0.01,"a":0.11,"b":0.05},{"p":"III","m":"A","t":8,"f":0.069,"e":0.01,"a":0.08,"b":0.06},{"p":"III","m":"A","t":9,"f":0.076,"e":0.01,"a":0.09,"b":0.065},{"p":"III","m":"A","t":10,"f":0.083,"e":0.01,"a":0.095,"b":0.07},{"p":"III","m":"A","t":11,"f":0.09,"e":0.01,"a":0.1,"b":0.08},{"p":"III","m":"A","t":12,"f":0.097,"e":0.01,"a":0.11,"b":0.085},{"p":"III","m":"A","t":13,"f":0.104,"e":0.01,"a":0.17,"b":0.095},{"p":"III","m":"A","t":14,"f":0.111,"e":0.01,"a":0.12,"b":0.1},{"p":"III","m":"A","t":15,"f":0.118,"e":0.01,"a":0.13,"b":0.105},{"p":"III","m":"A","t":16,"f":0.125,"e":0.01,"a":0.18,"b":0.115},{"p":"III","m":"A","t":17,"f":0.131,"e":0.01,"a":0.14,"b":0.12},{"p":"III","m":"A","t":18,"f":0.137,"e":0.01,"a":0.17,"b":0.125},{"p":"III","m":"A","t":19,"f":0.143,"e":0.01,"a":0.155,"b":0.13},{"p":"III","m":"A","t":20,"f":0.15,"e":0.01,"a":0.16,"b":0.14},
{"p":"IV","m":"P","t":1,"f":0.65,"e":0.07,"a":0.53,"b":0.5},{"p":"IV","m":"P","t":2,"f":0.63,"e":0.08,"a":0.71,"b":0.48},{"p":"IV","m":"P","t":3,"f":0.615,"e":0.075,"a":0.71,"b":0.54},{"p":"IV","m":"P","t":4,"f":0.6,"e":0.07,"a":0.78,"b":0.53},{"p":"IV","m":"P","t":5,"f":0.585,"e":0.06,"a":0.72,"b":0.525},{"p":"IV","m":"P","t":6,"f":0.57,"e":0.05,"a":0.62,"b":0.52},{"p":"IV","m":"P","t":7,"f":0.555,"e":0.045,"a":0.6,"b":0.51},{"p":"IV","m":"P","t":8,"f":0.54,"e":0.04,"a":0.58,"b":0.5},{"p":"IV","m":"P","t":9,"f":0.53,"e":0.035,"a":0.66,"b":0.495},{"p":"IV","m":"P","t":10,"f":0.515,"e":0.03,"a":0.545,"b":0.485},{"p":"IV","m":"P","t":11,"f":0.5,"e":0.025,"a":0.525,"b":0.475},{"p":"IV","m":"P","t":12,"f":0.49,"e":0.025,"a":0.515,"b":0.465},{"p":"IV","m":"P","t":13,"f":0.475,"e":0.025,"a":0.5,"b":0.45},{"p":"IV","m":"P","t":14,"f":0.465,"e":0.025,"a":0.49,"b":0.44},{"p":"IV","m":"P","t":15,"f":0.45,"e":0.025,"a":0.475,"b":0.425},{"p":"IV","m":"P","t":16,"f":0.44,"e":0.025,"a":0.465,"b":0.415},{"p":"IV","m":"P","t":17,"f":0.43,"e":0.025,"a":0.455,"b":0.405},{"p":"IV","m":"P","t":18,"f":0.42,"e":0.025,"a":0.445,"b":0.27},{"p":"IV","m":"P","t":19,"f":0.41,"e":0.025,"a":0.435,"b":0.385},{"p":"IV","m":"P","t":20,"f":0.4,"e":0.025,"a":0.425,"b":0.375},
{"p":"IV","m":"L","t":1,"f":0.03,"e":0.02,"a":0.4,"b":0.35},{"p":"IV","m":"L","t":2,"f":0.05,"e":0.02,"a":0.33,"b":0.04},{"p":"IV","m":"L","t":3,"f":0.07,"e":0.02,"a":0.18,"b":0.06},{"p":"IV","m":"L","t":4,"f":0.09,"e":0.025,"a":0.115,"b":0.07},{"p":"IV","m":"L","t":5,"f":0.11,"e":0.025,"a":0.135,"b":0.09},{"p":"IV","m":"L","t":6,"f":0.13,"e":0.025,"a":0.155,"b":0.11},{"p":"IV","m":"L","t":7,"f":0.15,"e":0.025,"a":0.175,"b":0.13},{"p":"IV","m":"L","t":8,"f":0.17,"e":0.025,"a":0.195,"b":0.15},{"p":"IV","m":"L","t":9,"f":0.19,"e":0.025,"a":0.215,"b":0.17},{"p":"IV","m":"L","t":10,"f":0.21,"e":0.025,"a":0.235,"b":0.19},{"p":"IV","m":"L","t":11,"f":0.23,"e":0.025,"a":0.255,"b":0.21},{"p":"IV","m":"L","t":12,"f":0.25,"e":0.025,"a":0.275,"b":0.23},{"p":"IV","m":"L","t":13,"f":0.27,"e":0.025,"a":0.295,"b":0.25},{"p":"IV","m":"L","t":14,"f":0.29,"e":0.025,"a":0.315,"b":0.27},{"p":"IV","m":"L","t":15,"f":0.31,"e":0.025,"a":0.335,"b":0.29},{"p":"IV","m":"L","t":16,"f":0.33,"e":0.025,"a":0.355,"b":0.31},{"p":"IV","m":"L","t":17,"f":0.35,"e":0.025,"a":0.375,"b":0.33},{"p":"IV","m":"L","t":18,"f":0.37,"e":0.03,"a":0.47,"b":0.34},{"p":"IV","m":"L","t":19,"f":0.39,"e":0.03,"a":0.42,"b":0.36},{"p":"IV","m":"L","t":20,"f":0.41,"e":0.03,"a":0.44,"b":0.31},
{"p":"IV","m":"A","t":1,"f":0.01,"e":0.01,"a":0.02,"b":0},{"p":"IV","m":"A","t":2,"f":0.017,"e":0.01,"a":0.12,"b":0.01},{"p":"IV","m":"A","t":3,"f":0.024,"e":0.01,"a":0.035,"b":0.015},{"p":"IV","m":"A","t":4,"f":0.031,"e":0.01,"a":0.04,"b":0.02},{"p":"IV","m":"A","t":5,"f":0.038,"e":0.01,"a":0.05,"b":0.03},{"p":"IV","m":"A","t":6,"f":0.045,"e":0.01,"a":0.11,"b":0.035},{"p":"IV","m":"A","t":7,"f":0.052,"e":0.01,"a":0.06,"b":0.04},{"p":"IV","m":"A","t":8,"f":0.059,"e":0.01,"a":0.07,"b":0.05},{"p":"IV","m":"A","t":9,"f":0.066,"e":0.01,"a":0.075,"b":0.055},{"p":"IV","m":"A","t":10,"f":0.073,"e":0.01,"a":0.085,"b":0.065},{"p":"IV","m":"A","t":11,"f":0.08,"e":0.01,"a":0.09,"b":0.07},{"p":"IV","m":"A","t":12,"f":0.087,"e":0.01,"a":0.18,"b":0.075},{"p":"IV","m":"A","t":13,"f":0.094,"e":0.01,"a":0.105,"b":0.085},{"p":"IV","m":"A","t":14,"f":0.101,"e":0.01,"a":0.11,"b":0.09},{"p":"IV","m":"A","t":15,"f":0.108,"e":0.01,"a":0.12,"b":0.1},{"p":"IV","m":"A","t":16,"f":0.115,"e":0.01,"a":0.125,"b":0.105},{"p":"IV","m":"A","t":17,"f":0.122,"e":0.01,"a":0.13,"b":0.11},{"p":"IV","m":"A","t":18,"f":0.129,"e":0.01,"a":0.14,"b":0.12},{"p":"IV","m":"A","t":19,"f":0.136,"e":0.01,"a":0.19,"b":0.125},{"p":"IV","m":"A","t":20,"f":0.143,"e":0.01,"a":0.155,"b":0.13}
 ],
 "k":[{"m":"P","ep":"I","k":0.048,"err":0.003},{"m":"P","ep":"II","k":0.047,"err":0.004},{"m":"P","ep":"III","k":0.036,"err":0.005},{"m":"P","ep":"IV","k":0.048,"err":0.005},{"m":"P","ep":"conv","k":0.029,"err":0.001},
      {"m":"L","ep":"I","k":0.075,"err":0.003},{"m":"L","ep":"II","k":0.09,"err":0.005},{"m":"L","ep":"III","k":0.083,"err":0.006},{"m":"L","ep":"IV","k":0.068,"err":0.005},{"m":"L","ep":"conv","k":0.04,"err":0.002},
      {"m":"A","ep":"I","k":0.0105,"err":0.001},{"m":"A","ep":"II","k":0.013,"err":0.001},{"m":"A","ep":"III","k":0.0135,"err":0.0015},{"m":"A","ep":"IV","k":0.014,"err":0.001},{"m":"A","ep":"conv","k":0.0065,"err":0.0003}],
 "bandA1":[{"s":3.3,"e":11.5}],
 "bandA2":[{"s":3.3,"e":11.5},{"s":33,"e":41},{"s":58,"e":66.5},{"s":88.5,"e":97}],
 "bandB":[{"s":0,"e":4.2},{"s":27.5,"e":32},{"s":57.9,"e":62},{"s":89,"e":93.8}],
 "labA2":[{"t":21.5,"lab":"I"},{"t":47,"lab":"II"},{"t":77,"lab":"III"},{"t":108,"lab":"IV"}],
 "labB":[{"t":14.8,"lab":"I"},{"t":44.4,"lab":"II"},{"t":75.6,"lab":"III"},{"t":106.5,"lab":"IV"}]
},
"columns":1,
"align":"none",
"spacing":20,
"resolve":{"scale":{"color":"independent"},"legend":{"color":"independent"}},
"concat":[
 {"spacing":18,"resolve":{"scale":{"color":"independent"},"legend":{"color":"independent"}},"hconcat":[
  {"bounds":"flush","spacing":0,"resolve":{"scale":{"color":"independent"},"legend":{"color":"independent"}},"vconcat":[
   {"width":273,"height":195,
    "layer":[
     {"data":{"name":"aP"},"mark":{"type":"line","strokeWidth":1.8},"encoding":{
       "x":{"field":"t","type":"quantitative","scale":{"domain":[0,150],"nice":false,"zero":false},"axis":null},
       "y":{"field":"v","type":"quantitative","scale":{"domain":[-0.1,1],"nice":false,"zero":false},"axis":{"values":[0,0.5,1],"format":"~g","labelPadding":16,"title":"MtoC","titleX":-42,"titleY":195,"titleAlign":"center","titleBaseline":"middle","titleFontSize":25}},
       "color":{"datum":"P","type":"nominal","scale":{"domain":["P","L","A"],"range":["#2e3a8c","#0e6e3a","#c8a27c"]},"legend":{"orient":"none","legendX":141,"legendY":-1,"title":null,"symbolType":"stroke","symbolSize":1400,"symbolStrokeWidth":2,"labelFontSize":19,"labelOffset":5,"rowPadding":-17,"labelColor":"#231f20","labelExpr":"datum.label=='P'?'Pyruvate':datum.label=='L'?'Lactate':'Alanine'"}}}},
     {"data":{"name":"aL"},"mark":{"type":"line","strokeWidth":1.8},"encoding":{"x":{"field":"t","type":"quantitative"},"y":{"field":"v","type":"quantitative"},"color":{"datum":"L","type":"nominal","legend":null}}},
     {"data":{"name":"aA"},"mark":{"type":"line","strokeWidth":1.8},"encoding":{"x":{"field":"t","type":"quantitative"},"y":{"field":"v","type":"quantitative"},"color":{"datum":"A","type":"nominal","legend":null}}},
     {"data":{"name":"bandA1"},"mark":{"type":"rect","color":"#9fd8f2","opacity":0.6},"encoding":{"x":{"field":"s","type":"quantitative"},"x2":{"field":"e"}}},
     {"data":{"values":[{}]},"mark":{"type":"text","fontSize":19,"color":"#231f20"},"encoding":{"x":{"datum":30},"y":{"datum":0.82},"text":{"value":"conv"}}},
     {"data":{"values":[{}]},"mark":{"type":"text","fontSize":38,"fontWeight":"bold","baseline":"alphabetic","align":"center","color":"#231f20"},"encoding":{"x":{"datum":-21},"y":{"datum":1.175},"text":{"value":"a"}}}
    ]},
   {"width":273,"height":193,
    "layer":[
     {"data":{"name":"a2P"},"mark":{"type":"line","strokeWidth":1.8},"encoding":{
       "x":{"field":"t","type":"quantitative","scale":{"domain":[0,150],"nice":false,"zero":false},"axis":{"values":[0,75,150],"labelPadding":9,"title":"overall time / s","titlePadding":2}},
       "y":{"field":"v","type":"quantitative","scale":{"domain":[-0.11,1],"nice":false,"zero":false},"axis":{"values":[0,0.5],"format":"~g","labelPadding":16,"title":null}},
       "color":{"datum":"P","type":"nominal","scale":{"domain":["P","L","A"],"range":["#2e3a8c","#0e6e3a","#c8a27c"]},"legend":null}}},
     {"data":{"name":"a2L"},"mark":{"type":"line","strokeWidth":1.8},"encoding":{"x":{"field":"t","type":"quantitative"},"y":{"field":"v","type":"quantitative"},"color":{"datum":"L","type":"nominal","legend":null}}},
     {"data":{"name":"a2A"},"mark":{"type":"line","strokeWidth":1.8},"encoding":{"x":{"field":"t","type":"quantitative"},"y":{"field":"v","type":"quantitative"},"color":{"datum":"A","type":"nominal","legend":null}}},
     {"data":{"name":"bandA2"},"mark":{"type":"rect","color":"#9fd8f2","opacity":0.6},"encoding":{"x":{"field":"s","type":"quantitative"},"x2":{"field":"e"}}},
     {"data":{"name":"labA2"},"mark":{"type":"text","fontSize":19,"color":"#231f20"},"encoding":{"x":{"field":"t","type":"quantitative"},"y":{"datum":0.88},"text":{"field":"lab"}}}
    ]}
  ]},
  {"spacing":-12,"resolve":{"scale":{"color":"independent"},"legend":{"color":"independent"}},"vconcat":[
   {"width":284,"height":107,
    "layer":[
     {"data":{"name":"bP"},"mark":{"type":"line","strokeWidth":1.6},"encoding":{
       "x":{"field":"t","type":"quantitative","scale":{"domain":[0,120],"nice":false,"zero":false},"axis":{"orient":"top","values":[0,60,120],"labelPadding":6,"title":"overall time / s","titlePadding":8}},
       "y":{"field":"v","type":"quantitative","scale":{"domain":[-0.05,1],"nice":false,"zero":false},"axis":{"values":[0.5,1],"format":"~g","labelPadding":8,"title":null}},
       "color":{"datum":"P","type":"nominal","scale":{"domain":["P","L","A"],"range":["#2e3a8c","#0e6e3a","#c8a27c"]},"legend":null}}},
     {"data":{"name":"bL"},"mark":{"type":"line","strokeWidth":1.6},"encoding":{"x":{"field":"t","type":"quantitative"},"y":{"field":"v","type":"quantitative"},"color":{"datum":"L","type":"nominal","legend":null}}},
     {"data":{"name":"bA"},"mark":{"type":"line","strokeWidth":1.6},"encoding":{"x":{"field":"t","type":"quantitative"},"y":{"field":"v","type":"quantitative"},"color":{"datum":"A","type":"nominal","legend":null}}},
     {"data":{"name":"bandB"},"mark":{"type":"rect","color":"#9fd8f2","opacity":0.6},"encoding":{"x":{"field":"s","type":"quantitative"},"x2":{"field":"e"}}},
     {"data":{"name":"labB"},"mark":{"type":"text","fontSize":19,"color":"#231f20"},"encoding":{"x":{"field":"t","type":"quantitative"},"y":{"datum":0.85},"text":{"field":"lab"}}},
     {"data":{"values":[{}]},"mark":{"type":"text","fontSize":38,"fontWeight":"bold","baseline":"alphabetic","align":"center","color":"#231f20"},"encoding":{"x":{"datum":-11},"y":{"datum":1.3},"text":{"value":"b"}}}
    ]},
   {"bounds":"flush","spacing":0,"columns":2,"concat":[
    {"width":142,"height":141,"data":{"name":"ev"},"transform":[{"filter":"datum.p=='I'"}],
     "layer":[
      {"mark":{"type":"errorbar","ticks":{"size":5},"thickness":1.5},"encoding":{
        "x":{"field":"t","type":"quantitative","scale":{"domain":[1,20],"nice":false,"zero":false},"axis":{"values":[1,5,10,15,20],"labels":false,"title":null}},
        "y":{"field":"f","type":"quantitative","scale":{"domain":[-0.12,1],"nice":false,"zero":false},"axis":{"values":[0,0.5,1],"format":"~g","labelFontSize":18,"labelPadding":13,"title":"MtoC","titleX":-41,"titleY":141,"titleAlign":"center","titleBaseline":"middle","titleFontSize":25}},
        "yError":{"field":"e"},"color":{"field":"m","type":"nominal","scale":{"domain":["P","L","A"],"range":["#2e3a8c","#0e6e3a","#c8a27c"]},"legend":null}}},
      {"mark":{"type":"line","strokeWidth":2},"encoding":{"x":{"field":"t","type":"quantitative"},"y":{"field":"f","type":"quantitative"},"color":{"field":"m","type":"nominal","legend":null}}},
      {"mark":{"type":"point","filled":true,"size":16,"opacity":1},"encoding":{"x":{"field":"t","type":"quantitative"},"y":{"field":"a","type":"quantitative"},"color":{"field":"m","type":"nominal","legend":null}}},
      {"mark":{"type":"point","filled":true,"size":16,"opacity":1},"encoding":{"x":{"field":"t","type":"quantitative"},"y":{"field":"b","type":"quantitative"},"color":{"field":"m","type":"nominal","legend":null}}},
      {"data":{"values":[{}]},"mark":{"type":"text","fontSize":19,"color":"#231f20"},"encoding":{"x":{"datum":10},"y":{"datum":0.85},"text":{"value":"I"}}}
     ]},
    {"width":142,"height":141,"data":{"name":"ev"},"transform":[{"filter":"datum.p=='II'"}],
     "layer":[
      {"mark":{"type":"errorbar","ticks":{"size":5},"thickness":1.5},"encoding":{
        "x":{"field":"t","type":"quantitative","scale":{"domain":[1,20],"nice":false,"zero":false},"axis":{"values":[5,10,15,20],"labels":false,"title":null}},
        "y":{"field":"f","type":"quantitative","scale":{"domain":[-0.12,1],"nice":false,"zero":false},"axis":{"values":[0,0.5],"labels":false,"title":null}},
        "yError":{"field":"e"},"color":{"field":"m","type":"nominal","scale":{"domain":["P","L","A"],"range":["#2e3a8c","#0e6e3a","#c8a27c"]},"legend":null}}},
      {"mark":{"type":"line","strokeWidth":2},"encoding":{"x":{"field":"t","type":"quantitative"},"y":{"field":"f","type":"quantitative"},"color":{"field":"m","type":"nominal","legend":null}}},
      {"mark":{"type":"point","filled":true,"size":16,"opacity":1},"encoding":{"x":{"field":"t","type":"quantitative"},"y":{"field":"a","type":"quantitative"},"color":{"field":"m","type":"nominal","legend":null}}},
      {"mark":{"type":"point","filled":true,"size":16,"opacity":1},"encoding":{"x":{"field":"t","type":"quantitative"},"y":{"field":"b","type":"quantitative"},"color":{"field":"m","type":"nominal","legend":null}}},
      {"data":{"values":[{}]},"mark":{"type":"text","fontSize":19,"color":"#231f20"},"encoding":{"x":{"datum":10.2},"y":{"datum":0.85},"text":{"value":"II"}}}
     ]},
    {"width":142,"height":141,"data":{"name":"ev"},"transform":[{"filter":"datum.p=='III'"}],
     "layer":[
      {"mark":{"type":"errorbar","ticks":{"size":5},"thickness":1.5},"encoding":{
        "x":{"field":"t","type":"quantitative","scale":{"domain":[1,20],"nice":false,"zero":false},"axis":{"values":[1,5,10,15,20],"labelOverlap":false,"labelPadding":6,"title":"event time / s","titleX":157,"titlePadding":2}},
        "y":{"field":"f","type":"quantitative","scale":{"domain":[-0.12,1],"nice":false,"zero":false},"axis":{"values":[0,0.5],"format":"~g","labelFontSize":18,"labelPadding":13,"title":null}},
        "yError":{"field":"e"},"color":{"field":"m","type":"nominal","scale":{"domain":["P","L","A"],"range":["#2e3a8c","#0e6e3a","#c8a27c"]},"legend":null}}},
      {"mark":{"type":"line","strokeWidth":2},"encoding":{"x":{"field":"t","type":"quantitative","axis":{"values":[1,5,10,15,20],"labelOverlap":false,"labelPadding":6,"title":"event time / s","titleX":157,"titlePadding":2}},"y":{"field":"f","type":"quantitative"},"color":{"field":"m","type":"nominal","legend":null}}},
      {"mark":{"type":"point","filled":true,"size":16,"opacity":1},"encoding":{"x":{"field":"t","type":"quantitative","axis":{"values":[1,5,10,15,20],"labelOverlap":false,"labelPadding":6,"title":"event time / s","titleX":157,"titlePadding":2}},"y":{"field":"a","type":"quantitative"},"color":{"field":"m","type":"nominal","legend":null}}},
      {"mark":{"type":"point","filled":true,"size":16,"opacity":1},"encoding":{"x":{"field":"t","type":"quantitative","axis":{"values":[1,5,10,15,20],"labelOverlap":false,"labelPadding":6,"title":"event time / s","titleX":157,"titlePadding":2}},"y":{"field":"b","type":"quantitative"},"color":{"field":"m","type":"nominal","legend":null}}},
      {"data":{"values":[{}]},"mark":{"type":"text","fontSize":19,"color":"#231f20"},"encoding":{"x":{"datum":9.8,"axis":{"values":[1,5,10,15,20],"labelOverlap":false,"labelPadding":6,"title":"event time / s","titleX":157,"titlePadding":2}},"y":{"datum":0.86},"text":{"value":"III"}}}
     ]},
    {"width":142,"height":141,"data":{"name":"ev"},"transform":[{"filter":"datum.p=='IV'"}],
     "layer":[
      {"mark":{"type":"errorbar","ticks":{"size":5},"thickness":1.5},"encoding":{
        "x":{"field":"t","type":"quantitative","scale":{"domain":[1,20],"nice":false,"zero":false},"axis":{"values":[5,10,15,20],"labelOverlap":false,"labelPadding":6,"title":null}},
        "y":{"field":"f","type":"quantitative","scale":{"domain":[-0.12,1],"nice":false,"zero":false},"axis":{"values":[0,0.5],"labels":false,"title":null}},
        "yError":{"field":"e"},"color":{"field":"m","type":"nominal","scale":{"domain":["P","L","A"],"range":["#2e3a8c","#0e6e3a","#c8a27c"]},"legend":null}}},
      {"mark":{"type":"line","strokeWidth":2},"encoding":{"x":{"field":"t","type":"quantitative"},"y":{"field":"f","type":"quantitative"},"color":{"field":"m","type":"nominal","legend":null}}},
      {"mark":{"type":"point","filled":true,"size":16,"opacity":1},"encoding":{"x":{"field":"t","type":"quantitative"},"y":{"field":"a","type":"quantitative"},"color":{"field":"m","type":"nominal","legend":null}}},
      {"mark":{"type":"point","filled":true,"size":16,"opacity":1},"encoding":{"x":{"field":"t","type":"quantitative"},"y":{"field":"b","type":"quantitative"},"color":{"field":"m","type":"nominal","legend":null}}},
      {"data":{"values":[{}]},"mark":{"type":"text","fontSize":19,"color":"#231f20"},"encoding":{"x":{"datum":10.5},"y":{"datum":0.86},"text":{"value":"IV"}}}
     ]}
   ]}
  ]}
 ]},
 {"spacing":-40,"hconcat":[
  {"width":1,"height":20,"view":{"stroke":null},"data":{"values":[{}]},"mark":{"type":"text"},"encoding":{"text":{"value":""}}},
  {"spacing":27,"hconcat":[
   {"width":95,"height":104,"view":{"stroke":null},"data":{"name":"k"},"transform":[{"filter":"datum.m=='P'"}],
    "title":{"text":"Pyruvate","color":"#2e3192","fontSize":22,"fontWeight":"normal","anchor":"middle","offset":0},
    "layer":[
     {"mark":{"type":"bar","stroke":"#231f20","strokeWidth":1.5},"encoding":{
       "x":{"field":"ep","type":"nominal","sort":["I","II","III","IV","conv"],"scale":{"paddingInner":0.12,"paddingOuter":0.3},"axis":{"title":null,"domain":true,"domainColor":"#231f20","domainWidth":1.5,"ticks":false,"labelAngle":0,"labelFontSize":14,"labelPadding":8,"labelExpr":"datum.label=='conv'?'\u00a0\u00a0\u00a0\u00a0\u00a0\u00a0conv':datum.label"}},
       "y":{"field":"k","type":"quantitative","scale":{"domain":[0,0.08],"nice":false},"axis":{"values":[0,0.04,0.08],"labelExpr":"datum.value==0?'0.0':datum.value==0.08?'0.08':''","labelFontSize":17,"labelPadding":11,"domain":true,"domainColor":"#231f20","domainWidth":1.5,"tickSize":-4,"title":"k / s⁻¹","titleX":-47,"titleY":52,"titleAlign":"center","titleBaseline":"middle"}},
       "fill":{"field":"ep","type":"nominal","scale":{"domain":["I","II","III","IV","conv"],"range":["#231f20","#6d6e71","#a7a9ac","#e6e7e8","#ffffff"]},"legend":null}}},
     {"mark":{"type":"errorbar","ticks":false,"thickness":1.5,"color":"#231f20"},"encoding":{"x":{"field":"ep","type":"nominal","sort":["I","II","III","IV","conv"]},"y":{"field":"k","type":"quantitative","title":"k / s⁻¹"},"yError":{"field":"err"}}},
     {"mark":{"type":"rule","strokeWidth":1.5,"color":"#231f20"},"encoding":{"x":{"field":"ep","type":"nominal","sort":["I","II","III","IV","conv"]},"y":{"datum":0.08},"y2":{"datum":0.0745}}},
     {"data":{"values":[{}]},"mark":{"type":"rule","strokeWidth":1.5,"color":"#231f20"},"encoding":{"x":{"datum":"I"},"x2":{"datum":"conv"},"y":{"datum":0.08}}},
     {"data":{"values":[{}]},"mark":{"type":"rule","strokeWidth":1.5,"color":"#231f20"},"encoding":{"x":{"datum":"conv"},"y":{"datum":0.08},"y2":{"datum":0.066}}},
     {"data":{"values":[{}]},"mark":{"type":"text","fontSize":18,"color":"#231f20"},"encoding":{"x":{"datum":"III"},"y":{"datum":0.084},"text":{"value":"*"}}},
     {"data":{"values":[{}]},"mark":{"type":"text","fontSize":38,"fontWeight":"bold","baseline":"alphabetic","align":"center","dx":-58,"color":"#231f20"},"encoding":{"x":{"datum":"I"},"y":{"datum":0.076},"text":{"value":"c"}}}
    ]},
   {"spacing":26,"hconcat":[
   {"width":95,"height":104,"view":{"stroke":null},"data":{"name":"k"},"transform":[{"filter":"datum.m=='L'"}],
    "title":{"text":"Lactate","color":"#0c7a43","fontSize":22,"fontWeight":"normal","anchor":"middle","offset":0},
    "layer":[
     {"mark":{"type":"bar","stroke":"#231f20","strokeWidth":1.5},"encoding":{
       "x":{"field":"ep","type":"nominal","sort":["I","II","III","IV","conv"],"scale":{"paddingInner":0.12,"paddingOuter":0.3},"axis":{"title":"epoch","titlePadding":2,"domain":true,"domainColor":"#231f20","domainWidth":1.5,"ticks":false,"labelAngle":0,"labelFontSize":14,"labelPadding":8,"labelExpr":"datum.label=='conv'?'\u00a0\u00a0\u00a0\u00a0\u00a0\u00a0conv':datum.label"}},
       "y":{"field":"k","type":"quantitative","scale":{"domain":[0,0.1],"nice":false},"axis":{"values":[0,0.05,0.1],"labelExpr":"datum.value==0?'0.0':datum.value==0.1?'0.1':''","labelFontSize":17,"labelPadding":11,"domain":true,"domainColor":"#231f20","domainWidth":1.5,"tickSize":-4,"title":null}},
       "fill":{"field":"ep","type":"nominal","scale":{"domain":["I","II","III","IV","conv"],"range":["#231f20","#6d6e71","#a7a9ac","#e6e7e8","#ffffff"]},"legend":null}}},
     {"mark":{"type":"errorbar","ticks":false,"thickness":1.5,"color":"#231f20"},"encoding":{"x":{"field":"ep","type":"nominal","sort":["I","II","III","IV","conv"]},"y":{"field":"k","type":"quantitative","title":null},"yError":{"field":"err"}}},
     {"mark":{"type":"rule","strokeWidth":1.5,"color":"#231f20"},"encoding":{"x":{"field":"ep","type":"nominal","sort":["I","II","III","IV","conv"]},"y":{"datum":0.108},"y2":{"datum":0.1}}},
     {"data":{"values":[{}]},"mark":{"type":"rule","strokeWidth":1.5,"color":"#231f20"},"encoding":{"x":{"datum":"I"},"x2":{"datum":"conv"},"y":{"datum":0.108}}},
     {"data":{"values":[{}]},"mark":{"type":"rule","strokeWidth":1.5,"color":"#231f20"},"encoding":{"x":{"datum":"conv"},"y":{"datum":0.108},"y2":{"datum":0.09}}},
     {"data":{"values":[{}]},"mark":{"type":"text","fontSize":18,"color":"#231f20"},"encoding":{"x":{"datum":"III"},"y":{"datum":0.113},"text":{"value":"*"}}}
    ]},
   {"width":95,"height":104,"view":{"stroke":null},"data":{"name":"k"},"transform":[{"filter":"datum.m=='A'"}],
    "title":{"text":"Alanine","color":"#c9a27e","fontSize":22,"fontWeight":"normal","anchor":"middle","offset":0},
    "layer":[
     {"mark":{"type":"bar","stroke":"#231f20","strokeWidth":1.5},"encoding":{
       "x":{"field":"ep","type":"nominal","sort":["I","II","III","IV","conv"],"scale":{"paddingInner":0.12,"paddingOuter":0.3},"axis":{"title":null,"domain":true,"domainColor":"#231f20","domainWidth":1.5,"ticks":false,"labelAngle":0,"labelFontSize":14,"labelPadding":8,"labelExpr":"datum.label=='conv'?'\u00a0\u00a0\u00a0\u00a0\u00a0\u00a0conv':datum.label"}},
       "y":{"field":"k","type":"quantitative","scale":{"domain":[0,0.02],"nice":false},"axis":{"values":[0,0.01,0.02],"labelExpr":"datum.value==0?'0.0':datum.value==0.02?'0.02':''","labelFontSize":17,"labelPadding":11,"domain":true,"domainColor":"#231f20","domainWidth":1.5,"tickSize":-4,"title":null}},
       "fill":{"field":"ep","type":"nominal","scale":{"domain":["I","II","III","IV","conv"],"range":["#231f20","#6d6e71","#a7a9ac","#e6e7e8","#ffffff"]},"legend":null}}},
     {"mark":{"type":"errorbar","ticks":false,"thickness":1.5,"color":"#231f20"},"encoding":{"x":{"field":"ep","type":"nominal","sort":["I","II","III","IV","conv"]},"y":{"field":"k","type":"quantitative","title":null},"yError":{"field":"err"}}},
     {"mark":{"type":"rule","strokeWidth":1.5,"color":"#231f20"},"encoding":{"x":{"field":"ep","type":"nominal","sort":["I","II","III","IV","conv"]},"y":{"datum":0.02},"y2":{"datum":0.0187}}},
     {"data":{"values":[{}]},"mark":{"type":"rule","strokeWidth":1.5,"color":"#231f20"},"encoding":{"x":{"datum":"I"},"x2":{"datum":"conv"},"y":{"datum":0.02}}},
     {"data":{"values":[{}]},"mark":{"type":"rule","strokeWidth":1.5,"color":"#231f20"},"encoding":{"x":{"datum":"conv"},"y":{"datum":0.02},"y2":{"datum":0.0166}}},
     {"data":{"values":[{}]},"mark":{"type":"text","fontSize":18,"color":"#231f20"},"encoding":{"x":{"datum":"III"},"y":{"datum":0.021},"text":{"value":"*"}}}
    ]}
   ]}
  ]}
 ]}
]
}
